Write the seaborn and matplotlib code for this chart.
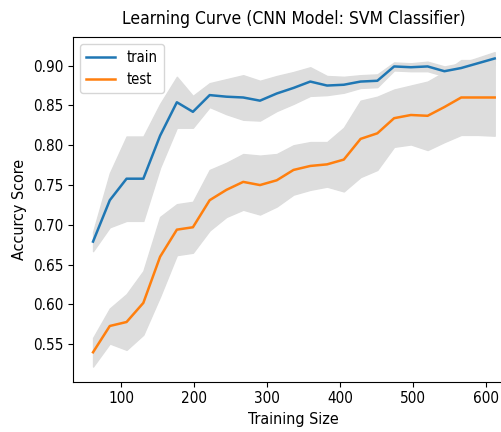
import seaborn as sns
import matplotlib.pyplot as plt
import pandas as pd

# training sizes used by the learning curve
train_sizes = [61, 84, 107, 130, 153, 176, 198, 221, 244, 267, 290, 313, 336,
               359, 382, 405, 428, 451, 474, 497, 520, 543, 566, 589, 612]

train_mean = [0.679, 0.731, 0.758, 0.758, 0.812, 0.854, 0.842, 0.863, 0.861,
              0.860, 0.856, 0.865, 0.872, 0.880, 0.875, 0.876, 0.880, 0.881,
              0.899, 0.898, 0.899, 0.893, 0.897, 0.903, 0.909]
train_std = [0.012, 0.034, 0.053, 0.053, 0.040, 0.032, 0.020, 0.015, 0.022,
             0.028, 0.025, 0.022, 0.020, 0.018, 0.012, 0.010, 0.008, 0.008,
             0.005, 0.005, 0.006, 0.006, 0.006, 0.007, 0.008]

test_mean = [0.540, 0.573, 0.578, 0.602, 0.660, 0.694, 0.697, 0.731, 0.744,
             0.754, 0.750, 0.756, 0.769, 0.774, 0.776, 0.782, 0.808, 0.815,
             0.834, 0.838, 0.837, 0.848, 0.860, 0.860, 0.860]
test_std = [0.018, 0.022, 0.035, 0.040, 0.050, 0.032, 0.032, 0.038, 0.034,
            0.035, 0.037, 0.033, 0.031, 0.030, 0.028, 0.040, 0.048, 0.046,
            0.036, 0.037, 0.043, 0.044, 0.047, 0.047, 0.048]

df = pd.DataFrame({
    "size": train_sizes * 2,
    "score": train_mean + test_mean,
    "set": ["train"] * len(train_sizes) + ["test"] * len(train_sizes),
})

plt.rcParams["font.family"] = ["DejaVu Sans"]
plt.rcParams["font.stretch"] = "condensed"

fig = plt.figure(figsize=(5.02, 4.32), dpi=100)
ax = fig.add_axes([0.1454, 0.1164, 0.880, 0.798])

lo_tr = [m - s for m, s in zip(train_mean, train_std)]
hi_tr = [m + s for m, s in zip(train_mean, train_std)]
lo_te = [m - s for m, s in zip(test_mean, test_std)]
hi_te = [m + s for m, s in zip(test_mean, test_std)]
ax.fill_between(train_sizes, lo_tr, hi_tr, color="#DDDDDD")
ax.fill_between(train_sizes, lo_te, hi_te, color="#DDDDDD")

sns.lineplot(data=df, x="size", y="score", hue="set",
             palette=["#1f77b4", "#ff7f0e"], linewidth=1.8, ax=ax)

ax.set_xlim(33.5, 639.5)
ax.set_ylim(0.503, 0.936)
ax.set_title("Learning Curve (CNN Model: SVM Classifier)", fontsize=12.5, pad=9)
ax.set_xlabel("Training Size", fontsize=11.5)
ax.set_ylabel("Accurcy Score", fontsize=11.5)
ax.tick_params(labelsize=11)
ax.legend(loc="upper left", fontsize=10.5, handlelength=2.0)

fig.savefig("out.png", dpi=100)
